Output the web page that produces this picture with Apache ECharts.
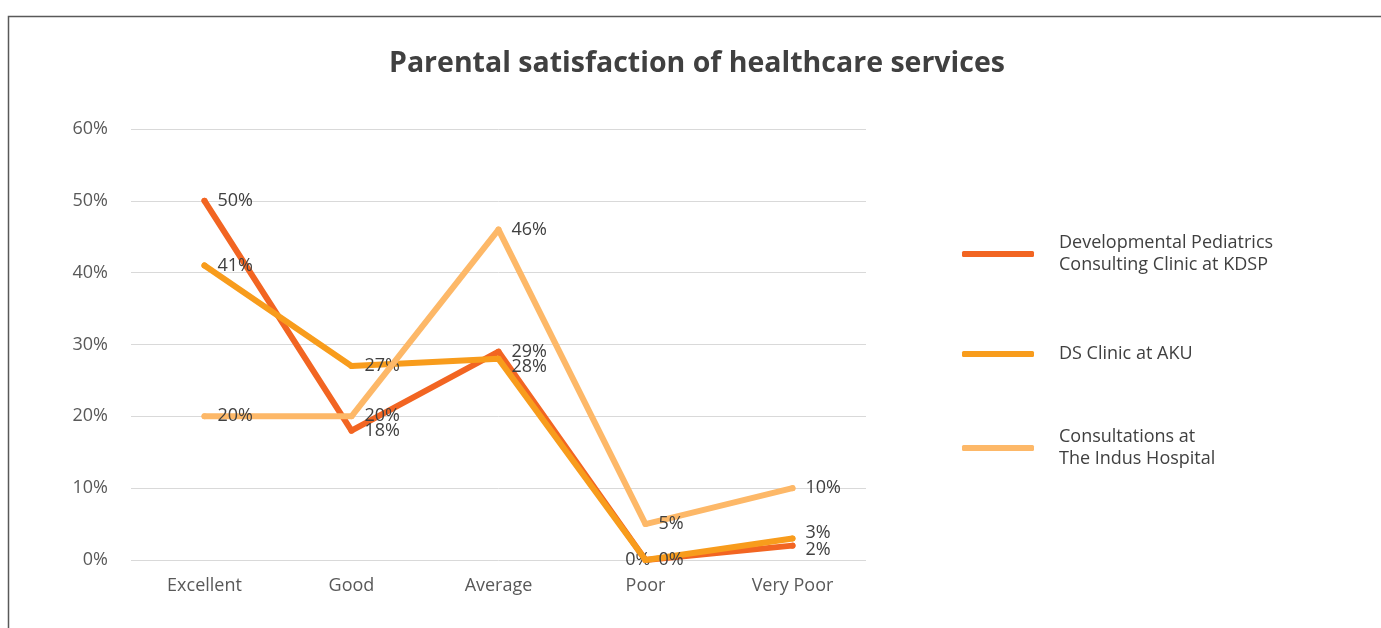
<!DOCTYPE html>
<html>
<head>
<meta charset="utf-8">
<style>html,body{margin:0;padding:0;background:#fff;}#c{width:1381px;height:628px;}</style>
<script src="https://cdn.jsdelivr.net/npm/echarts@6/dist/echarts.min.js"></script>
</head>
<body>
<div id="c"></div>
<script>
const categories = ['Excellent', 'Good', 'Average', 'Poor', 'Very Poor'];
const seriesNames = ['Developmental Pediatrics Consulting Clinic at KDSP', 'DS Clinic at AKU', 'Consultations at The Indus Hospital'];
const legendLabels = ['Developmental Pediatrics\nConsulting Clinic at KDSP', 'DS Clinic at AKU', 'Consultations at\nThe Indus Hospital'];
const kdsp = [50, 18, 29, 0, 2];
const aku = [41, 27, 28, 0, 3];
const indus = [20, 20, 46, 5, 10];
const yTicks = [0, 10, 20, 30, 40, 50, 60];

const colors = ['#F26522', '#F89C1C', '#FDB868'];
const FONT = 'Open Sans';
const FS = 18;

const labelTweaks = [
  {3: {position: 'left', offset: [18, 0]}, 4: {offset: [0, 4]}},
  {2: {offset: [0, 8]}, 4: {offset: [0, -6]}},
  {}
];

function buildData(vals, idx) {
  return vals.map((v, i) => {
    const t = labelTweaks[idx][i];
    return t ? {value: v, label: t} : v;
  });
}

const chart = echarts.init(document.getElementById('c'), null, {renderer: 'canvas'});
const series = [kdsp, aku, indus].map((vals, idx) => ({
  name: seriesNames[idx],
  type: 'line',
  data: buildData(vals, idx),
  symbol: 'circle',
  symbolSize: 6,
  z: 2 + idx,
  lineStyle: {width: 6, color: colors[idx], cap: 'round', join: 'round'},
  itemStyle: {color: colors[idx]},
  label: {
    show: true,
    position: 'right',
    distance: 10,
    formatter: p => p.value + '%',
    color: '#404040',
    fontSize: FS,
    fontFamily: FONT
  },
  emphasis: {disabled: true},
  animation: false
}));

const legendTops = [243, 343, 437];
const legends = seriesNames.map((n, i) => ({
  orient: 'vertical',
  left: 962,
  top: legendTops[i] - (i === 1 ? 0 : 11),
  padding: 0,
  itemWidth: 72,
  itemHeight: 6,
  icon: 'roundRect',
  data: [n],
  formatter: name => legendLabels[seriesNames.indexOf(name)],
  textStyle: {fontSize: FS, color: '#404040', fontFamily: FONT, lineHeight: 22, padding: [0, 0, 0, 20]},
  selectedMode: false
}));

chart.setOption({
  animation: false,
  backgroundColor: '#fff',
  title: {
    text: 'Parental satisfaction of healthcare services',
    left: 389,
    top: 49,
    padding: 0,
    textStyle: {fontSize: 28.5, fontWeight: 'bold', color: '#404040', fontFamily: FONT}
  },
  graphic: [{
    type: 'rect',
    left: 6, top: 14,
    shape: {width: 1500, height: 800},
    style: {fill: 'none', stroke: '#595959', lineWidth: 1.5},
    silent: true
  }],
  grid: {left: 131, right: 1381 - 866, top: 129, bottom: 68, containLabel: false},
  legend: legends,
  xAxis: {
    type: 'category',
    data: categories,
    boundaryGap: true,
    axisLine: {show: false},
    axisTick: {show: false},
    axisLabel: {color: '#595959', fontSize: FS, fontFamily: FONT, margin: 17}
  },
  yAxis: {
    type: 'value',
    min: 0,
    max: 60,
    interval: 10,
    axisLine: {show: false},
    axisTick: {show: false},
    splitLine: {lineStyle: {color: '#D9D9D9', width: 1}},
    axisLabel: {
      color: '#595959', fontSize: FS, fontFamily: FONT, margin: 23,
      formatter: v => yTicks.includes(v) ? v + '%' : ''
    }
  },
  series: series
});
</script>
</body>
</html>
